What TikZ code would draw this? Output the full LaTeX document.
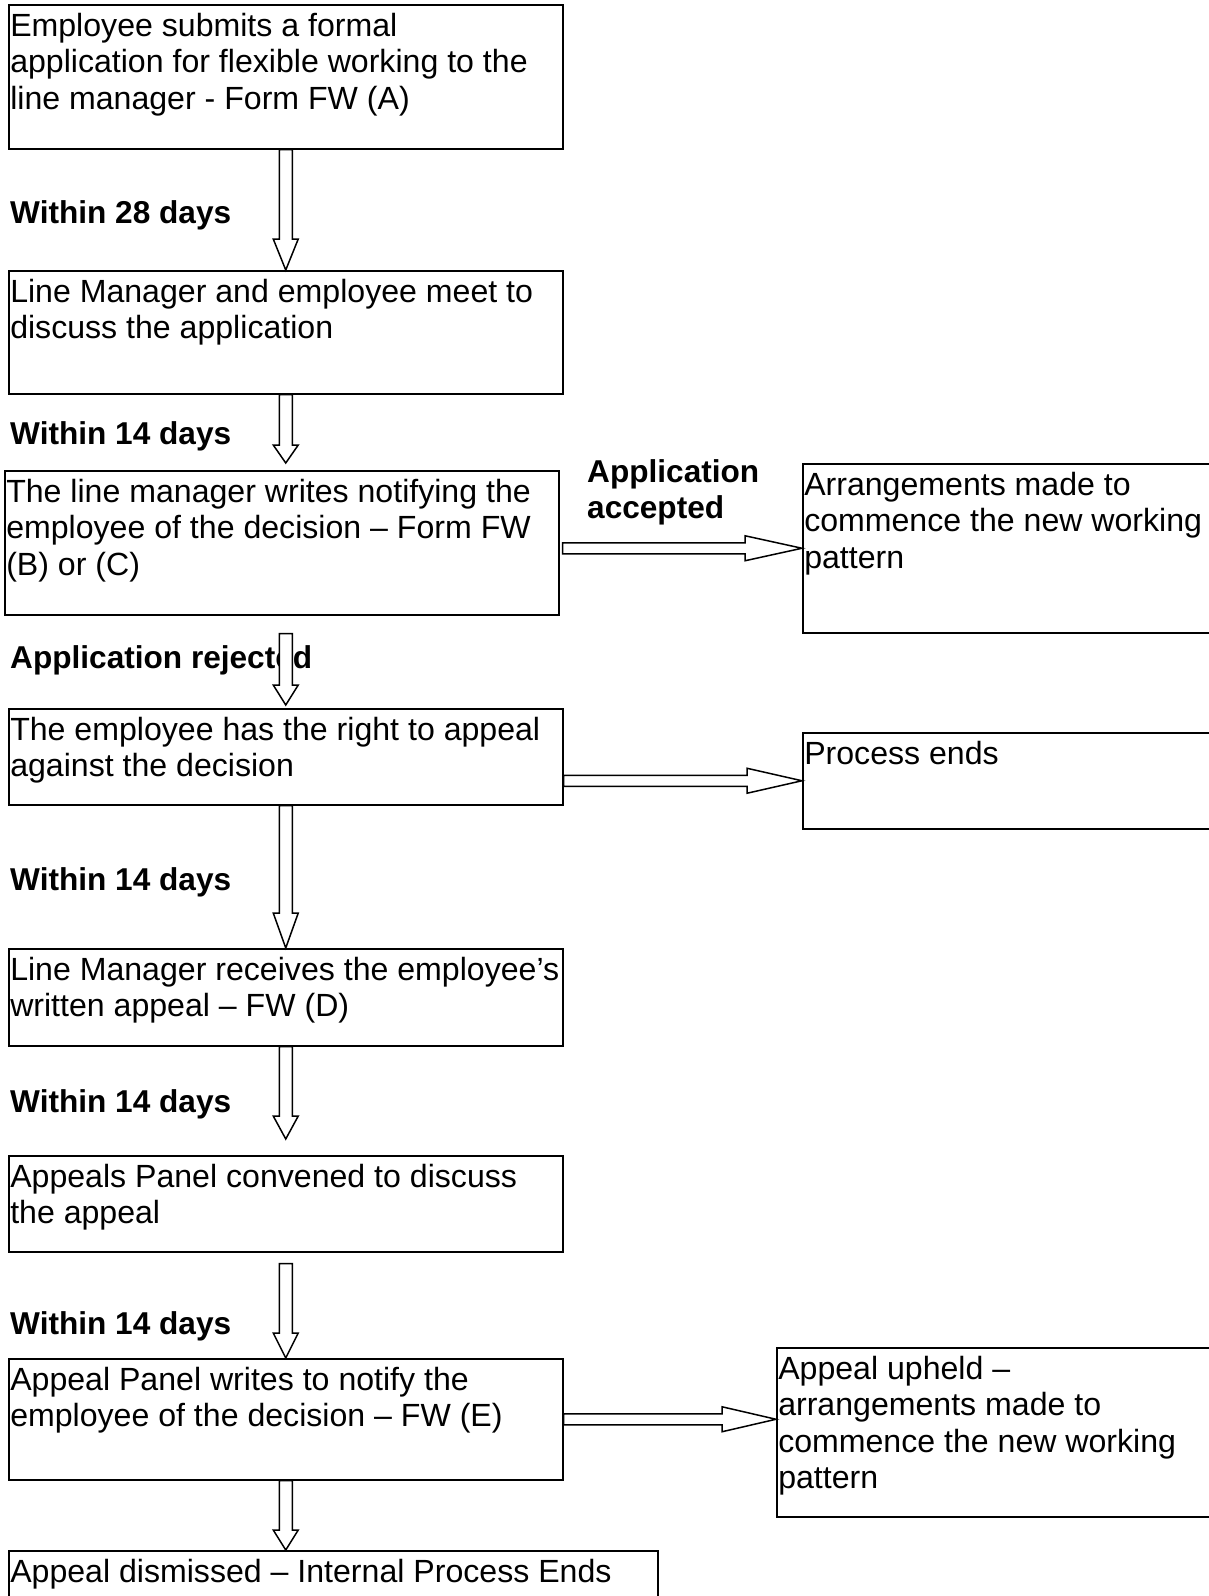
\documentclass[tikz,border=0pt]{standalone}
\usepackage{fontspec}
\setmainfont{Liberation Sans}
\usetikzlibrary{calc}
\tikzset{
  box/.style={draw,line width=1.5pt,anchor=north west,inner xsep=1.5pt,inner ysep=6pt,font=\fontsize{32.1}{36.5}\selectfont},
  lbl/.style={anchor=base west,inner sep=0pt,font=\fontsize{31.6}{36.5}\selectfont\bfseries},
  blk/.style={draw,fill=white,line width=1.5pt,line join=miter}
}
\newcommand{\bx}[3]{\parbox[t][#1pt][t]{#2pt}{\raggedright\strut #3}}
\newcommand{\vblk}[3]{\draw[blk] let \p1=(#2), \p2=(#3) in
  (\x1-6.5pt,\y1) -- (\x1+6.5pt,\y1) -- (\x1+6.5pt,\y2+#1pt) -- (\x1+12.5pt,\y2+#1pt)
  -- (\x1,\y2) -- (\x1-12.5pt,\y2+#1pt) -- (\x1-6.5pt,\y2+#1pt) -- cycle;}
\newcommand{\hblk}[3]{\draw[blk] let \p1=(#2), \p2=(#3) in
  (\x1,\y1+5.5pt) -- (\x2-#1pt,\y1+5.5pt) -- (\x2-#1pt,\y1+12.5pt) -- (\x2,\y1)
  -- (\x2-#1pt,\y1-12.5pt) -- (\x2-#1pt,\y1-5.5pt) -- (\x1,\y1-5.5pt) -- cycle;}
\begin{document}
\begin{tikzpicture}[x=1pt,y=-1pt]
\useasboundingbox (0,0) rectangle (1208,1596);
\node[box] (sub) at (8,4) {\bx{132}{551}{Employee submits a formal\\application for flexible working to the\\line manager - Form FW (A)}};
\node[box] (meet) at (8,270) {\bx{111}{551}{Line Manager and employee meet to\\discuss the application}};
\node[box] (notify) at (4,470) {\bx{132}{551}{The line manager writes notifying the\\employee of the decision -- Form FW\\(B) or (C)}};
\node[box] (accept) at (802,463) {\bx{157}{435}{Arrangements made to\\commence the new working\\pattern}};
\node[box] (appeal) at (8,708) {\bx{84}{551}{The employee has the right to appeal\\against the decision}};
\node[box] (ends) at (802,732) {\bx{84}{435}{Process ends}};
\node[box] (recv) at (8,948) {\bx{85}{551}{Line Manager receives the employee’s\\written appeal -- FW (D)}};
\node[box] (panel) at (8,1155) {\bx{84}{551}{Appeals Panel convened to discuss\\the appeal}};
\node[box] (panelw) at (8,1358) {\bx{109}{551}{Appeal Panel writes to notify the\\employee of the decision -- FW (E)}};
\node[box] (upheld) at (776,1347) {\bx{157}{461}{Appeal upheld --\\arrangements made to\\commence the new working\\pattern}};
\node[box] (dismiss) at (8,1550) {\bx{58}{646}{Appeal dismissed -- Internal Process Ends}};

\node[lbl] (w28) at (10,223) {Within 28 days};
\node[lbl] (w14a) at (10,444) {Within 14 days};
\node[lbl] (acc) at (587,482) {\parbox[t]{200pt}{Application\\accepted}};
\node[lbl] (rej) at (10,668) {Application rejected};
\node[lbl] (w14b) at (10,890) {Within 14 days};
\node[lbl] (w14c) at (10,1112) {Within 14 days};
\node[lbl] (w14d) at (10,1334) {Within 14 days};

\vblk{31}{sub.south}{meet.north}
\vblk{18}{meet.south}{$(notify.north)+(0,-7)$}
\vblk{20}{$(meet.south |- notify.south)+(0,18)$}{$(appeal.north)+(0,-3)$}
\vblk{35}{appeal.south}{recv.north}
\vblk{23}{recv.south}{$(panel.north)+(0,-16)$}
\vblk{25}{$(panel.south)+(0,11)$}{panelw.north}
\vblk{20}{panelw.south}{dismiss.north}
\hblk{57}{$(notify.east |- accept.west)+(3,0)$}{accept.west}
\hblk{55}{appeal.east |- ends.west}{ends.west}
\hblk{54}{panelw.east}{upheld.west |- panelw.east}
\end{tikzpicture}
\end{document}
